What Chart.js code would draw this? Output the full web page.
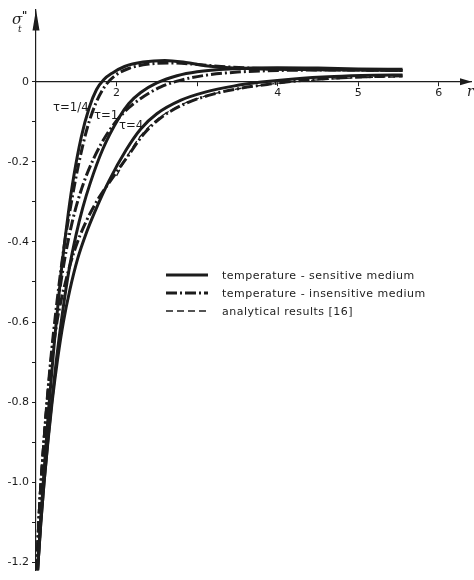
<!DOCTYPE html>
<html>
<head>
<meta charset="utf-8">
<script src="https://cdn.jsdelivr.net/npm/chart.js@4.4.0/dist/chart.umd.min.js"></script>
<style>
  html, body { margin: 0; padding: 0; background: #fff; }
  canvas { display: block; }
</style>
</head>
<body>
<canvas id="grafico" width="474" height="580"></canvas>
<script>
// values (r on x, sigma_t* on y)
const r_s14 = [1.02, 1.05, 1.09, 1.16, 1.23, 1.31, 1.40, 1.47, 1.56, 1.66, 1.75, 1.84, 1.95, 2.10, 2.33, 2.60, 2.86, 3.10, 3.40, 4.00, 4.50, 5.00, 5.55]
const s_s14 = [-1.22, -1.12, -1.00, -0.81, -0.645, -0.48, -0.33, -0.235, -0.14, -0.065, -0.02, 0.005, 0.022, 0.038, 0.049, 0.053, 0.048, 0.040, 0.035, 0.031, 0.030, 0.029, 0.028]

const r_d14 = [1.01, 1.03, 1.05, 1.08, 1.12, 1.18, 1.26, 1.35, 1.44, 1.53, 1.63, 1.74, 1.86, 1.98, 2.15, 2.40, 2.70, 3.00, 3.30, 3.80, 4.50, 5.00, 5.55]
const s_d14 = [-1.22, -1.12, -1.04, -0.95, -0.84, -0.70, -0.55, -0.41, -0.30, -0.205, -0.12, -0.055, -0.01, 0.015, 0.033, 0.044, 0.047, 0.043, 0.038, 0.033, 0.030, 0.029, 0.028]

const r_s1 = [1.02, 1.06, 1.10, 1.15, 1.19, 1.25, 1.33, 1.41, 1.50, 1.58, 1.67, 1.83, 2.03, 2.15, 2.30, 2.50, 2.75, 3.00, 3.40, 4.00, 4.50, 5.00, 5.55]
const s_s1 = [-1.22, -1.10, -1.00, -0.89, -0.81, -0.70, -0.575, -0.47, -0.38, -0.315, -0.255, -0.168, -0.09, -0.055, -0.027, -0.003, 0.015, 0.025, 0.032, 0.035, 0.034, 0.032, 0.031]

const r_d1 = [1.01, 1.03, 1.05, 1.08, 1.12, 1.18, 1.26, 1.35, 1.45, 1.57, 1.72, 1.90, 2.10, 2.30, 2.55, 2.80, 3.10, 3.50, 4.00, 4.50, 5.00, 5.55]
const s_d1 = [-1.22, -1.12, -1.04, -0.95, -0.845, -0.71, -0.57, -0.45, -0.35, -0.265, -0.19, -0.125, -0.075, -0.042, -0.013, 0.004, 0.016, 0.024, 0.028, 0.029, 0.029, 0.028]

const r_s4 = [1.02, 1.06, 1.10, 1.15, 1.20, 1.27, 1.34, 1.42, 1.52, 1.62, 1.73, 1.90, 2.12, 2.30, 2.50, 2.80, 3.10, 3.45, 3.80, 4.20, 4.70, 5.20, 5.55]
const s_s4 = [-1.22, -1.10, -1.00, -0.895, -0.80, -0.69, -0.60, -0.52, -0.44, -0.38, -0.325, -0.25, -0.17, -0.118, -0.08, -0.046, -0.026, -0.011, -0.001, 0.007, 0.013, 0.016, 0.017]

const r_d4 = [1.01, 1.03, 1.05, 1.08, 1.12, 1.18, 1.26, 1.36, 1.48, 1.62, 1.78, 1.95, 2.15, 2.34, 2.55, 2.85, 3.20, 3.55, 3.90, 4.30, 4.80, 5.20, 5.55]
const s_d4 = [-1.22, -1.12, -1.04, -0.95, -0.845, -0.72, -0.60, -0.505, -0.42, -0.35, -0.29, -0.24, -0.183, -0.13, -0.09, -0.055, -0.031, -0.016, -0.006, 0.003, 0.010, 0.013, 0.015]

const r_a4 = [2.00, 2.15, 2.30, 2.50, 2.80, 3.10, 3.45, 3.80, 4.20, 4.70, 5.20, 5.55]
const s_a4 = [-0.235, -0.18, -0.135, -0.095, -0.058, -0.036, -0.020, -0.009, 0.000, 0.007, 0.011, 0.012]

const tauLabels = ['τ=1/4', 'τ=1', 'τ=4']
const legendLabels = ['temperature - sensitive medium', 'temperature - insensitive medium', 'analytical results [16]']

const yMajorTicks = [-1.2, -1.0, -0.8, -0.6, -0.4, -0.2, 0]
const yMinorTicks = [-1.1, -0.9, -0.7, -0.5, -0.3, -0.1]
const xTickValues = [2, 3, 4, 5, 6]
const xLabeled = [2, 4, 5, 6]

const ink = '#1c1c1c'
const dashDot = [11, 3, 2, 3]
const dashed = [7, 4]

function pts(rs, ss) {
  return rs.map((r, i) => ({ x: r, y: ss[i] }))
}

function curve(label, rs, ss, dash, width) {
  return {
    label: label,
    data: pts(rs, ss),
    borderColor: ink,
    borderWidth: width,
    borderDash: dash,
    pointRadius: 0,
    fill: false,
    cubicInterpolationMode: 'monotone'
  }
}

const extras = {
  id: 'extras',
  afterDraw(chart) {
    const ctx = chart.ctx
    const x = chart.scales.x
    const y = chart.scales.y
    const area = chart.chartArea
    const x0 = area.left
    const y0 = y.getPixelForValue(0)
    ctx.save()
    ctx.fillStyle = ink
    ctx.strokeStyle = ink

    // axis arrows
    ctx.beginPath()
    ctx.moveTo(x0, area.top)
    ctx.lineTo(x0 - 3.5, area.top + 21)
    ctx.lineTo(x0 + 3.5, area.top + 21)
    ctx.closePath()
    ctx.fill()
    ctx.beginPath()
    ctx.moveTo(area.right + 1, y0)
    ctx.lineTo(area.right - 11, y0 - 3.5)
    ctx.lineTo(area.right - 11, y0 + 3.5)
    ctx.closePath()
    ctx.fill()

    // axis names
    ctx.textBaseline = 'alphabetic'
    ctx.font = 'italic 15px "DejaVu Serif"'
    ctx.fillText('σ', x0 - 24, area.top + 14)
    ctx.font = 'italic 9px "DejaVu Serif"'
    ctx.fillText('t', x0 - 18, area.top + 22)
    ctx.font = 'bold 10px "DejaVu Sans"'
    ctx.fillText('"', x0 - 14, area.top + 9)
    ctx.font = 'italic 14px "DejaVu Serif"'
    ctx.fillText('r', area.right - 4, y0 + 14)

    // curve labels
    ctx.font = '13px "DejaVu Sans Condensed", "DejaVu Sans"'
    ctx.fillText(tauLabels[0], x.getPixelForValue(1.21), y.getPixelForValue(-0.074))
    ctx.fillText(tauLabels[1], x.getPixelForValue(1.72), y.getPixelForValue(-0.094))
    ctx.fillText(tauLabels[2], x.getPixelForValue(2.03), y.getPixelForValue(-0.118))

    // legend
    const styles = [[[], 3], [dashDot, 3], [dashed, 1.3]]
    ctx.font = '11px "DejaVu Sans"'
    ctx.letterSpacing = '0.5px'
    legendLabels.forEach((lab, i) => {
      const ly = 275 + i * 18
      ctx.setLineDash(styles[i][0])
      ctx.lineWidth = styles[i][1]
      ctx.beginPath()
      ctx.moveTo(166, ly)
      ctx.lineTo(208, ly)
      ctx.stroke()
      ctx.fillText(lab, 222, ly + 4)
    })
    ctx.restore()
  }
}

const grafico = document.getElementById('grafico').getContext('2d')

const meuGrafico = new Chart(grafico, {
  type: 'line',
  data: {
    datasets: [
      curve('s14', r_s14, s_s14, [], 3),
      curve('s1', r_s1, s_s1, [], 3),
      curve('s4', r_s4, s_s4, [], 3),
      curve('d14', r_d14, s_d14, dashDot, 3),
      curve('d1', r_d1, s_d1, dashDot, 3),
      curve('d4', r_d4, s_d4, dashDot, 3),
      curve('a4', r_a4, s_a4, dashed, 1.3)
    ]
  },
  options: {
    responsive: false,
    animation: false,
    devicePixelRatio: 1,
    layout: { padding: { top: 9, right: 3, bottom: 4, left: 0 } },
    plugins: {
      legend: { display: false },
      tooltip: { enabled: false }
    },
    scales: {
      x: {
        type: 'linear',
        min: 1,
        max: 6.4,
        position: { y: 0 },
        afterBuildTicks: (scale) => { scale.ticks = xTickValues.map(v => ({ value: v })) },
        ticks: {
          color: ink,
          font: { size: 11, family: 'DejaVu Sans' },
          padding: 1,
          maxRotation: 0,
          callback: (v) => xLabeled.includes(v) ? String(v) : ''
        },
        grid: { drawOnChartArea: false, tickLength: 4, color: ink },
        border: { color: ink, width: 1.2 }
      },
      y: {
        type: 'linear',
        min: -1.22,
        max: 0.18,
        afterFit: (scale) => { scale.width = 36 },
        afterBuildTicks: (scale) => {
          scale.ticks = yMajorTicks.concat(yMinorTicks).sort((a, b) => a - b).map(v => ({ value: v }))
        },
        ticks: {
          color: ink,
          font: { size: 11, family: 'DejaVu Sans' },
          padding: 3,
          callback: (v) => yMajorTicks.includes(v) ? (v === 0 ? '0' : v.toFixed(1)) : ''
        },
        grid: { drawOnChartArea: false, tickLength: 4, color: ink },
        border: { color: ink, width: 1.2 }
      }
    }
  },
  plugins: [extras]
})
</script>
</body>
</html>
